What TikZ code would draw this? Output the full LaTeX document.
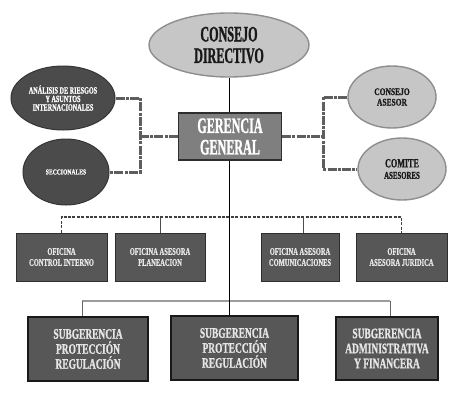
\documentclass[tikz,border=0pt]{standalone}
\usepackage{fontspec}
\setmainfont{Liberation Serif}
\newfontfamily\cfa{Liberation Serif}[FakeStretch=0.55,FakeBold=1.2]
\newfontfamily\cfb{Liberation Serif}[FakeStretch=0.65,FakeBold=0.9]
\newfontfamily\cfc{Liberation Serif}[FakeStretch=0.75,FakeBold=0.8]
\usetikzlibrary{shapes.geometric,calc}
\definecolor{lightfill}{HTML}{C6C6C6}
\definecolor{lightedge}{HTML}{8E8E8E}
\definecolor{darkfill}{HTML}{4B4B4B}
\definecolor{darkedge}{HTML}{353535}
\definecolor{midfill}{HTML}{7F7F7F}
\definecolor{boxfill}{HTML}{575757}
\definecolor{boxedge}{HTML}{2E2E2E}
\definecolor{connc}{HTML}{5E5E5E}
\definecolor{busc}{HTML}{9C9C9C}
\definecolor{txtlight}{HTML}{E6E6E6}
\tikzset{
  lightell/.style={ellipse, draw=lightedge, fill=lightfill, line width=1.4pt, inner sep=0pt, text=black!90},
  darkell/.style={ellipse, draw=darkedge, fill=darkfill, line width=1pt, inner sep=0pt, text=white},
  ggbox/.style={rectangle, draw=boxedge, fill=midfill, line width=1.3pt, inner sep=0pt, text=white, align=center},
  ofbox/.style={rectangle, draw=boxedge, fill=boxfill, line width=1pt, inner sep=0pt, text=txtlight, align=center},
  sgbox/.style={rectangle, draw=black!90, fill=boxfill, line width=1.3pt, inner sep=0pt, text=txtlight, align=center},
  conn/.style={draw=connc, line width=3pt, dash pattern=on 9pt off 1.2pt on 3pt off 1.2pt},
  dashln/.style={draw=black!75, line width=1.2pt, dash pattern=on 3pt off 1.4pt},
  drop/.style={draw=black!70, line width=0.8pt},
  bus/.style={draw=busc, line width=2pt},
  busdrop/.style={draw=black!60, line width=0.9pt},
  mainln/.style={draw=black, line width=1pt},
  bigtxt/.style={font={\cfa\bfseries\fontsize{22}{21.5}\selectfont}, align=center},
  sgtxt/.style={font={\cfb\bfseries\fontsize{14.5}{15}\selectfont}, align=center},
  oftxt/.style={font={\cfb\bfseries\fontsize{10}{11}\selectfont}, align=center}
}
\begin{document}
\begin{tikzpicture}[x=1pt,y=-1pt]
\useasboundingbox[fill=white] (0,0) rectangle (458,399);

% top ellipse and gerencia
\node[lightell, bigtxt, minimum width=160pt, minimum height=64pt] (CD) at (229,45) {CONSEJO\\DIRECTIVO};
\node[ggbox, bigtxt, minimum width=103pt, minimum height=47pt] (GG) at (230,136.5) {GERENCIA\\GENERAL};

% left ellipses
\node[darkell, minimum width=104pt, minimum height=64pt,
  label={[text=white, align=center, font={\cfb\bfseries\fontsize{9.5}{8.5}\selectfont}]center:{ANÁLISIS DE RIESGOS\\Y ASUNTOS\\INTERNACIONALES}}] (AR) at (63,98) {};
\node[darkell, minimum width=86pt, minimum height=66pt, font={\cfc\bfseries\fontsize{7.5}{8}\selectfont}] (SEC) at (66,172) {SECCIONALES};

% right ellipses
\node[lightell, minimum width=88pt, minimum height=62pt, align=center, font={\cfc\bfseries\fontsize{10}{10.5}\selectfont}] (CA) at (392,97) {CONSEJO\\ASESOR};
\node[lightell, minimum width=88pt, minimum height=62pt, align=center, font={\cfb\bfseries\fontsize{12.5}{11.5}\selectfont}] (CM) at (402,169) {COMITE\\{\fontsize{10.5}{11}\selectfont ASESORES}};

% oficinas
\node[ofbox, oftxt, minimum width=91pt, minimum height=48pt] (O1) at (61.5,257) {OFICINA\\CONTROL INTERNO};
\node[ofbox, oftxt, minimum width=90pt, minimum height=48pt] (O2) at (160,257) {OFICINA ASESORA\\PLANEACION};
\node[ofbox, oftxt, minimum width=78pt, minimum height=48pt] (O3) at (300,257) {OFICINA ASESORA\\COMUNICACIONES};
\node[ofbox, oftxt, minimum width=91pt, minimum height=48pt] (O4) at (401.5,257) {OFICINA\\ASESORA JURIDICA};

% subgerencias
\node[sgbox, sgtxt, minimum width=120pt, minimum height=64pt] (SG1) at (88,349) {SUBGERENCIA\\PROTECCIÓN\\REGULACIÓN};
\node[sgbox, sgtxt, minimum width=127pt, minimum height=64pt] (SG2) at (234.5,348) {SUBGERENCIA\\PROTECCIÓN\\REGULACIÓN};
\node[sgbox, sgtxt, minimum width=102pt, minimum height=63pt] (SG3) at (387,348.5) {SUBGERENCIA\\ADMINISTRATIVA\\Y FINANCERA};

% side connectors
\coordinate (jl) at (140,136.5);
\coordinate (jr) at (323,136.5);
\draw[conn] (AR.east) -| (jl) |- (SEC.east);
\draw[conn] (jl) -- (GG.west);
\draw[conn] (CA.west) -| (jr) |- (CM.west);
\draw[conn] (GG.east) -- (jr);

% dashed staff line
\coordinate (dl) at (0,217);
\draw[dashln] (O1.north) -- (O1.north |- dl) -- (O4.north |- dl) -- (O4.north);
\draw[drop] (O2.north) -- (O2.north |- dl);
\draw[drop] ([xshift=3pt]O3.north) -- ([xshift=3pt]O3.north |- dl);

% bus to subgerencias
\coordinate (bl) at (0,301);
\draw[bus] ([xshift=-6pt]SG1.north |- bl) -- ([xshift=3pt]SG3.north |- bl);
\draw[busdrop] ([xshift=-6pt]SG1.north) -- ([xshift=-6pt]SG1.north |- bl);
\draw[busdrop] ([xshift=3pt]SG3.north) -- ([xshift=3pt]SG3.north |- bl);

% main vertical line
\draw[mainln] (CD.south) -- (CD.south |- GG.north);
\draw[mainln] (CD.south |- GG.south) -- (CD.south |- SG2.north);
\end{tikzpicture}
\end{document}
